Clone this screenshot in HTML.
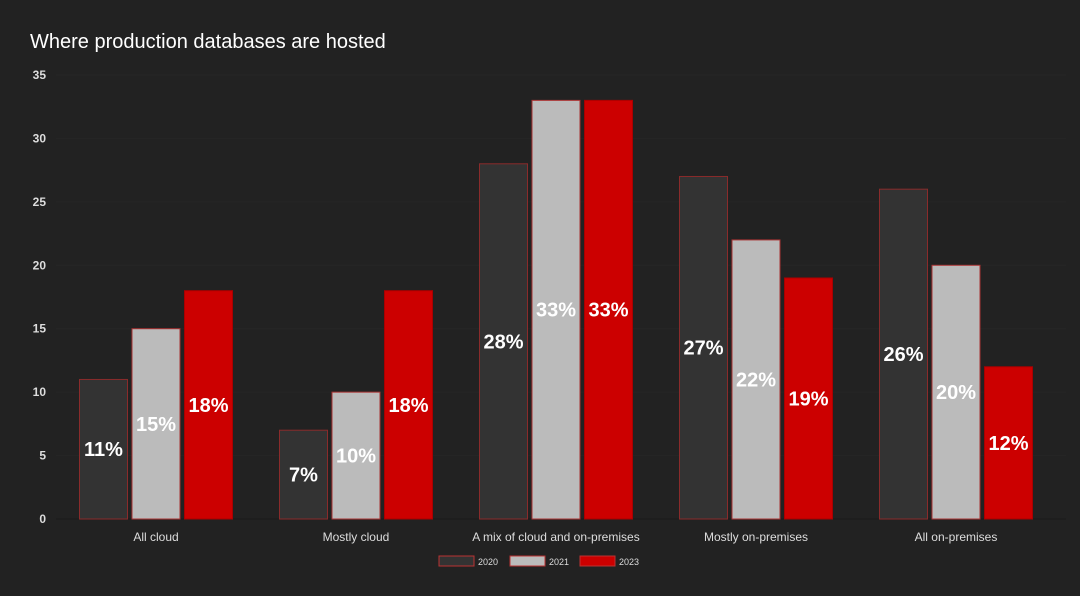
<!DOCTYPE html>
<html><head><meta charset="utf-8"><style>
html,body{margin:0;padding:0;background:#222;width:1080px;height:596px;overflow:hidden}
text{font-family:"Liberation Sans",Arial,sans-serif}
</style></head><body>
<svg id="chart" width="1080" height="596">
<rect width="1080" height="596" fill="#222"/>
<text x="30" y="48" fill="#fff" font-size="20">Where production databases are hosted</text>
<g id="grid"></g><g id="bars"></g><g id="labels"></g><g id="legend"></g>
</svg>
<script>
const categories=["All cloud","Mostly cloud","A mix of cloud and on-premises","Mostly on-premises","All on-premises"];
const seriesNames=["2020","2021","2023"];
const v2020=[11,7,28,27,26];
const v2021=[15,10,33,22,20];
const v2023=[18,18,33,19,12];
const yTicks=[0,5,10,15,20,25,30,35];
const series=[v2020,v2021,v2023];
const fills=["#333","#bbb","#cc0000"];
const strokes=["#8a2b2b","#a33","#a00"];
const NS="http://www.w3.org/2000/svg";
const x0=56,x1=1056,yBase=519,yTop=75,yMax=35;
const y=v=>yBase-(v/yMax)*(yBase-yTop);
const gw=(x1-x0)/categories.length;
const cx=i=>x0+gw*(i+0.5);
const bw=48,step=52.5;
function mk(tag,attrs,parent,txt){const e=document.createElementNS(NS,tag);for(const k in attrs)e.setAttribute(k,attrs[k]);if(txt!==undefined)e.textContent=txt;parent.appendChild(e);return e;}
const grid=document.getElementById('grid'),bars=document.getElementById('bars'),labels=document.getElementById('labels'),legend=document.getElementById('legend');
yTicks.forEach(t=>{
  const l=mk('line',{x1:x0,x2:x1+10,y1:y(t),y2:y(t),stroke:t===0?'#1a1a1a':'#262626','stroke-width':1},grid);
  
  
  const tx=mk('text',{x:46,y:y(t)+4,fill:'#ddd','font-size':12,'font-weight':'bold','text-anchor':'end'},grid,String(t));
  
  
});
categories.forEach((c,i)=>{
  series.forEach((s,j)=>{
    const bx=cx(i)+(j-1)*step-bw/2;
    const r=mk('rect',{x:bx,y:y(s[i]),width:bw,height:yBase-y(s[i]),fill:fills[j],stroke:strokes[j],'stroke-width':1},bars);
    
    
    const t=mk('text',{x:bx+bw/2,y:(y(s[i])+yBase)/2+7,fill:'#fff','font-size':20,'font-weight':'bold','text-anchor':'middle'},labels,s[i]+'%');
    
    
  });
  const ct=mk('text',{x:cx(i),y:541,fill:'#ddd','font-size':12,'text-anchor':'middle'},labels,c);
  
  
});
const lx=[439,510,580];
seriesNames.forEach((n,j)=>{
  const r=mk('rect',{x:lx[j],y:556,width:35,height:10,fill:fills[j],stroke:'#b33','stroke-width':1},legend);
  
  
  const t=mk('text',{x:lx[j]+39,y:565,fill:'#ddd','font-size':9},legend,n);
  
  
});
</script>
</body></html>
